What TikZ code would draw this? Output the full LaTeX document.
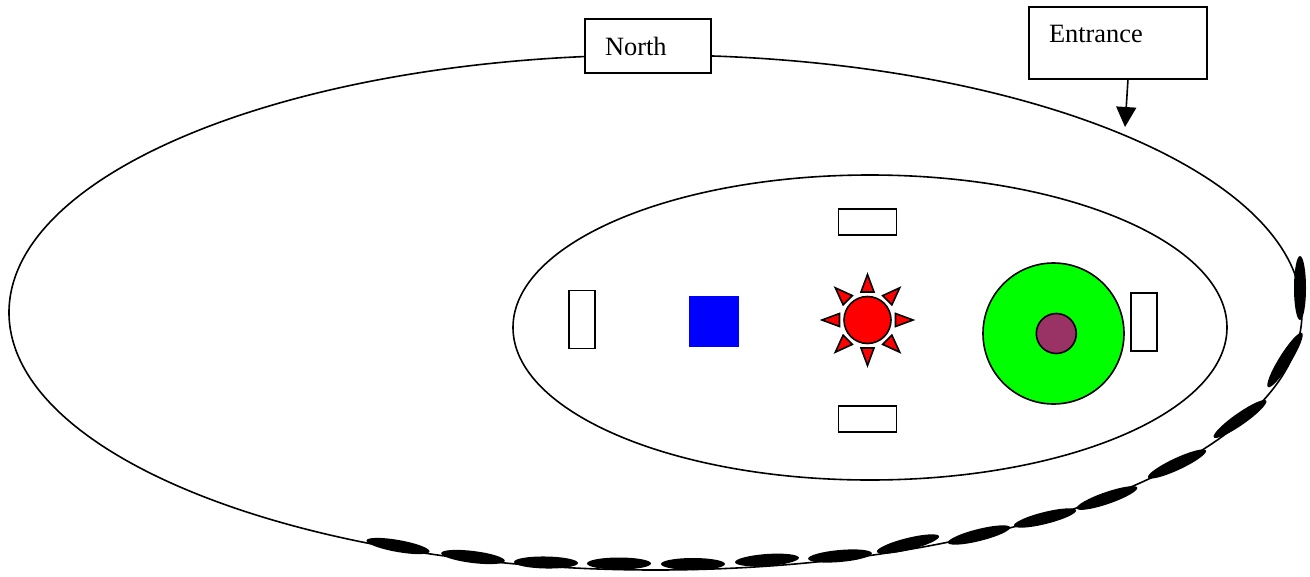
\documentclass[tikz,border=0pt]{standalone}
\usepackage{fontspec}
\setmainfont{Liberation Serif}
\usetikzlibrary{arrows.meta,shapes.geometric}
\tikzset{
    outline/.style={draw=black, line width=1.6pt},
    labelbox/.style={outline, fill=white, rectangle, inner xsep=20pt, inner ysep=0pt, outer sep=0pt, align=left, anchor=north west, font=\fontsize{26.4}{30}\selectfont},
    seat/.style={outline, fill=white, rectangle, inner sep=0pt, outer sep=0pt},
    stone/.style={fill=black, ellipse, inner sep=0pt, minimum width=64pt, minimum height=12pt},
    disc/.style={outline, circle, inner sep=0pt, outer sep=0pt},
    sunray/.style={outline, fill=red, line join=miter}
}
\begin{document}
\begin{tikzpicture}[x=1pt,y=-1pt]
    \useasboundingbox (0,0) rectangle (1310,576);

    %grounds
    \draw[outline] (655.5,312.5) ellipse [x radius=646.5, y radius=257.5];
    \draw[outline] (870,327.5) ellipse [x radius=357, y radius=152.5];

    %stones along the wall
    \foreach \x/\y/\a [count=\i] in {398/546/-10, 473/557/-7, 546/562.5/-1, 619/563.5/0, 693/564/0, 767/560/4, 840/556/5, 908/544/14, 979/535/14, 1045/518/14, 1107/498/19, 1177/464/25, 1240/419/35, 1285/360/58, 1300/288/90}
        \node[stone, rotate=\a] (stone\i) at (\x,\y) {};

    %labels
    \node[labelbox, minimum height=54pt, text width=86pt] (north) at (585,19) {North};
    \node[labelbox, minimum height=72pt, text width=138pt, text depth=19pt] (entrance) at (1029,7) {Entrance};
    \coordinate (gate) at (1125,127);
    \draw[line width=1.6pt, -{Triangle[width=20pt,length=20pt]}] (entrance.south) ++(10,0) -- (gate);

    %seats
    \node[seat, minimum width=58pt, minimum height=26pt] (seattop) at (867.5,222) {};
    \node[seat, minimum width=58pt, minimum height=26pt] (seatbottom) at (867.5,419) {};
    \node[seat, minimum width=26pt, minimum height=58pt] (seatleft) at (582,319.5) {};
    \node[seat, minimum width=26pt, minimum height=58pt] (seatright) at (1144,322) {};

    %square
    \node[fill=blue, rectangle, inner sep=0pt, minimum width=50pt, minimum height=51pt] (square) at (714,321.5) {};

    %sun
    \node[disc, fill=red, minimum size=47pt] (sun) at (867.5,320) {};
    \foreach \a in {0,45,...,315}
        \draw[sunray, shift={(sun.center)}, rotate=\a] (28,-6.5) -- (45.5,0) -- (28,6.5) -- cycle;

    %pool
    \node[disc, fill=green, minimum size=141pt] (pool) at (1053.5,333.5) {};
    \node[disc, fill={rgb,255:red,153;green,51;blue,102}, minimum size=40pt] (island) at (1056.3,333.5) {};
\end{tikzpicture}
\end{document}
